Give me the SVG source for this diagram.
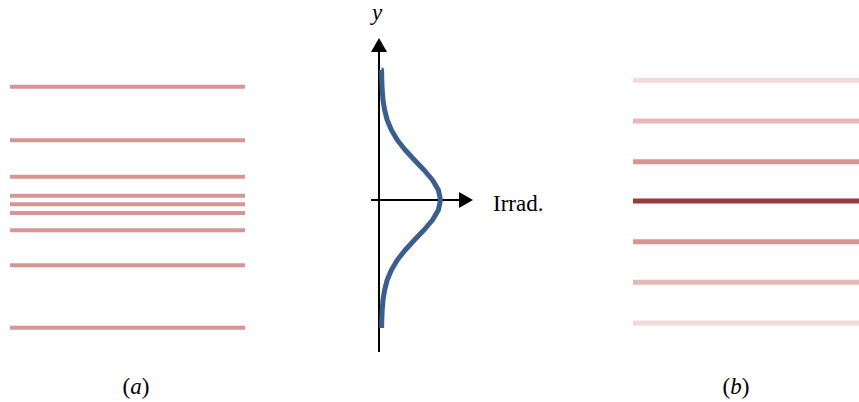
<svg xmlns="http://www.w3.org/2000/svg" width="859" height="402" viewBox="0 0 859 402">
<style>
.l{stroke-width:4;fill:none}
.r{stroke-width:5;fill:none}
.ax{stroke:#000;stroke-width:2;fill:none}
.t{font-family:"Liberation Serif","DejaVu Serif",serif;font-size:23px;fill:#000}
</style>
<defs>
<marker id="arr" viewBox="0 0 14 16" refX="12" refY="8" markerWidth="14" markerHeight="16" markerUnits="userSpaceOnUse" orient="auto">
<path d="M0,0 L14,8 L0,16 Z" fill="#000"/>
</marker>
</defs>
<rect width="859" height="402" fill="#fff"/>
<g id="panel-a" stroke="#d99594">
<line class="l" x1="10" y1="86.7" x2="245" y2="86.7"/>
<line class="l" x1="10" y1="140.3" x2="245" y2="140.3"/>
<line class="l" x1="10" y1="176.7" x2="245" y2="176.7"/>
<line class="l" x1="10" y1="195.7" x2="245" y2="195.7"/>
<line class="l" x1="10" y1="204.3" x2="245" y2="204.3"/>
<line class="l" x1="10" y1="213" x2="245" y2="213"/>
<line class="l" x1="10" y1="230.3" x2="245" y2="230.3"/>
<line class="l" x1="10" y1="265.3" x2="245" y2="265.3"/>
<line class="l" x1="10" y1="327.7" x2="245" y2="327.7"/>
</g>
<g id="panel-b">
<line class="r" stroke="#f2dada" x1="633" y1="80.3" x2="859" y2="80.3"/>
<line class="r" stroke="#e8b8b8" x1="633" y1="121" x2="859" y2="121"/>
<line class="r" stroke="#d99594" x1="633" y1="161.7" x2="859" y2="161.7"/>
<line class="r" stroke="#9a3b3b" x1="633" y1="201" x2="859" y2="201"/>
<line class="r" stroke="#d99594" x1="633" y1="241.7" x2="859" y2="241.7"/>
<line class="r" stroke="#e8b8b8" x1="633" y1="282.3" x2="859" y2="282.3"/>
<line class="r" stroke="#f2dada" x1="633" y1="323" x2="859" y2="323"/>
</g>
<g id="axes">
<line class="ax" x1="379" y1="352" x2="379" y2="40" marker-end="url(#arr)"/>
<line class="ax" x1="371" y1="200" x2="471" y2="200" marker-end="url(#arr)"/>
</g>
<g id="curve">
<polyline fill="none" stroke="#3a5f8f" stroke-width="5" stroke-linejoin="round" points="381.5,70 381.6,70 381.8,80 382.2,90 383,100 384.6,110 387.2,120 391.4,130 397.3,140 405.2,150 414.4,160 424,170 432.5,180 438.4,190 440.5,200 438.4,210 432.5,220 424,230 414.4,240 405.2,250 397.3,260 391.4,270 387.2,280 384.6,290 383,300 382.2,310 381.8,320 381.6,328"/>
</g>
<g id="labels">
<text class="t" x="372" y="20" font-style="italic" font-size="25">y</text>
<text class="t" x="493" y="211" font-size="27">Irrad.</text>
<text class="t" x="136" y="394" text-anchor="middle">(<tspan font-style="italic">a</tspan>)</text>
<text class="t" x="736" y="394" text-anchor="middle">(<tspan font-style="italic">b</tspan>)</text>
</g>
</svg>
